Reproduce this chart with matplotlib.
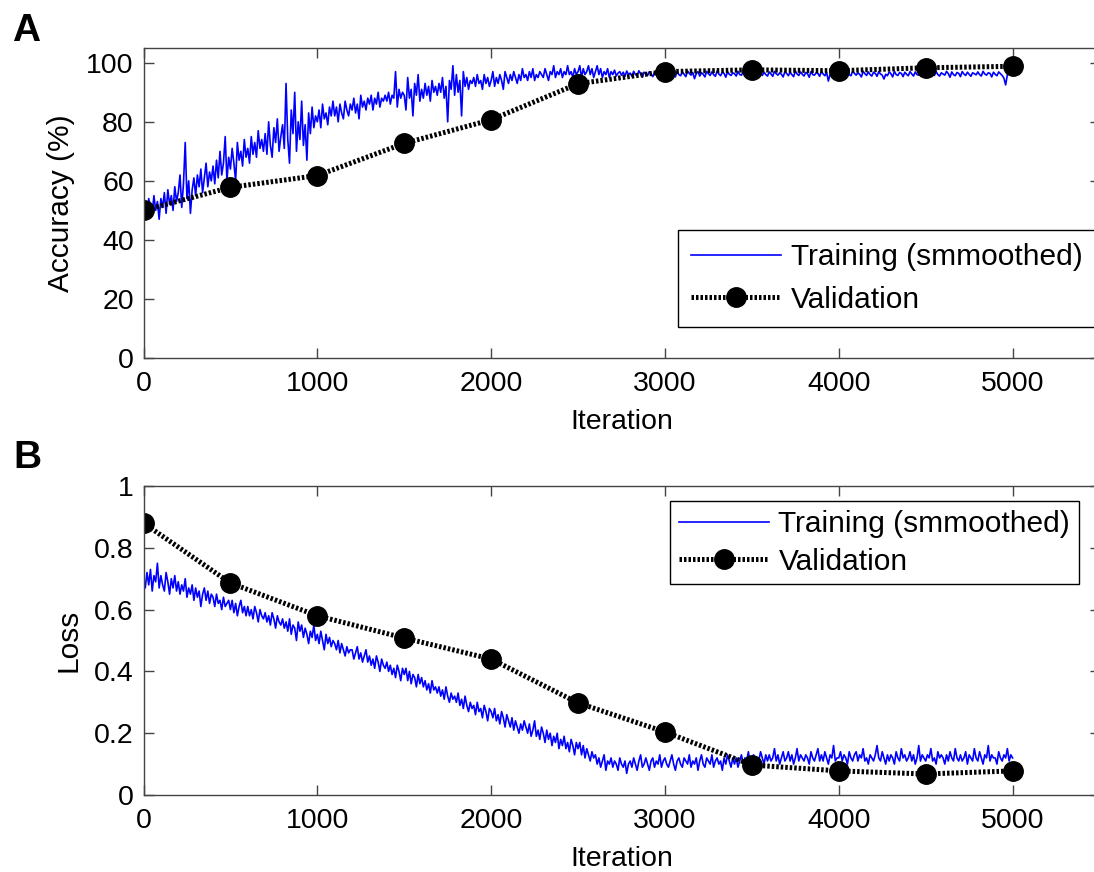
import numpy as np
import matplotlib
matplotlib.use('Agg')
import matplotlib.pyplot as plt
from matplotlib.ticker import FormatStrFormatter

plt.rcParams['font.family'] = ['Liberation Sans', 'DejaVu Sans']

# training curves, one value every 10 iterations
iters = np.arange(0, 5001, 10)

train_acc = [
    50, 52, 48, 54, 51, 49, 55, 50, 53, 47,
    54, 51, 56, 49, 57, 52, 55, 50, 58, 53,
    56, 62, 51, 59, 73, 54, 60, 49, 57, 61,
    55, 62, 58, 64, 56, 61, 66, 58, 63, 60,
    65, 59, 67, 61, 70, 62, 66, 75, 60, 68,
    64, 71, 66, 60, 73, 67, 70, 65, 74, 68,
    71, 66, 75, 69, 73, 68, 77, 71, 74, 70,
    76, 69, 80, 72, 68, 78, 73, 81, 70, 75,
    79, 71, 93, 74, 66, 84, 76, 90, 70, 80,
    74, 87, 72, 79, 67, 83, 76, 85, 78, 82,
    80, 84, 78, 86, 81, 83, 79, 85, 82, 87,
    82, 85, 80, 86, 83, 81, 87, 84, 82, 86,
    84, 88, 83, 86, 81, 89, 85, 87, 84, 88,
    86, 89, 84, 88, 86, 90, 85, 88, 87, 89,
    87, 90, 86, 89, 88, 97, 85, 91, 88, 90,
    89, 84, 95, 88, 91, 82, 93, 89, 96, 87,
    91, 88, 93, 89, 92, 87, 94, 90, 92, 89,
    93, 90, 95, 88, 92, 80, 94, 91, 99, 89,
    96, 90, 94, 82, 97, 92, 95, 91, 94, 93,
    95, 92, 96, 93, 94, 91, 96, 93, 95, 92,
    94, 97, 92, 95, 93, 96, 94, 91, 97, 95,
    93, 96, 94, 97, 95, 93, 96, 94, 98, 95,
    96, 94, 97, 95, 98, 94, 96, 95, 97, 96,
    95, 98, 96, 94, 97, 96, 99, 95, 97, 96,
    98, 95, 97, 96, 99, 96, 97, 95, 98, 96,
    97, 99, 95, 98, 96, 97, 99, 96, 98, 95,
    97, 99, 96, 98, 95, 97, 96, 98, 95, 97,
    96, 97.5, 95.5, 96.5, 97, 95.8, 96.8, 95.4, 97.2, 96,
    96.5, 95.4, 97.1, 96.0, 95.6, 97.3, 96.2, 95.1, 96.8, 96.3,
    95.7, 97.0, 96.1, 95.3, 96.9, 96.4, 95.8, 97.2, 95.5, 96.6,
    96.2, 95.4, 97.0, 96.3, 95.7, 96.8, 95.2, 97.1, 96.0, 95.6,
    96.9, 96.1, 95.3, 97.2, 96.4, 95.8, 96.7, 94.6, 96.3, 97.0,
    95.5, 96.6, 96.1, 95.2, 97.1, 96.3, 95.7, 96.9, 96.0, 95.4,
    97.2, 96.2, 95.6, 96.8, 96.4, 95.1, 97.0, 96.1, 95.7, 96.6,
    96.3, 95.5, 97.1, 96.0, 95.8, 96.9, 96.2, 95.3, 96.7, 97.2,
    95.6, 96.4, 96.1, 95.2, 97.0, 96.5, 95.7, 96.8, 96.0, 95.5,
    96.9, 96.2, 95.4, 97.1, 96.3, 95.8, 96.6, 96.1, 95.2, 97.0,
    96.4, 95.6, 96.8, 96.0, 95.3, 97.2, 96.2, 95.7, 96.9, 96.1,
    95.5, 96.7, 96.3, 95.1, 97.0, 96.0, 95.8, 96.6, 96.4, 95.4,
    97.1, 96.2, 95.6, 96.8, 93.8, 96.1, 95.5, 96.9, 96.3, 95.7,
    96.5, 95.9, 97.0, 96.2, 95.3, 96.8, 96.0, 95.6, 97.2, 96.4,
    95.8, 96.6, 96.1, 95.2, 97.1, 96.3, 95.7, 96.9, 96.0, 95.5,
    96.8, 96.4, 95.4, 97.0, 96.2, 95.8, 94.5, 96.1, 95.6, 96.9,
    96.3, 95.2, 97.1, 96.0, 95.7, 96.7, 96.4, 95.3, 96.8, 96.1,
    95.6, 97.0, 96.2, 95.5, 96.9, 96.0, 95.8, 97.2, 96.3, 95.4,
    96.7, 96.1, 95.2, 96.8, 96.4, 95.7, 97.0, 96.0, 95.5, 96.6,
    96.2, 95.8, 97.1, 96.3, 95.1, 96.9, 96.0, 95.6, 96.7, 96.4,
    95.3, 97.0, 96.2, 95.7, 96.8, 96.1, 95.4, 96.6, 96.3, 95.9,
    96.9, 96.0, 95.5, 97.1, 96.2, 95.8, 96.6, 96.4, 95.2, 96.8,
    96.1, 95.6, 96.9, 96.3, 95.7, 94.8, 92.5, 96.0, 96.4, 95.8,
    96.2,
]

train_loss = [
    .70, .67, .72, .68, .73, .66, .71, .69, .75, .67,
    .71, .68, .66, .72, .69, .65, .70, .67, .71, .66,
    .69, .65, .68, .66, .70, .64, .67, .65, .68, .63,
    .67, .64, .66, .61, .65, .67, .63, .66, .62, .65,
    .64, .61, .65, .62, .63, .60, .64, .61, .62, .63,
    .60, .63, .59, .62, .58, .61, .63, .59, .61, .58,
    .61, .58, .60, .57, .61, .59, .56, .60, .58, .57,
    .59, .56, .58, .55, .59, .57, .54, .58, .56, .55,
    .57, .54, .56, .53, .57, .52, .55, .54, .50, .56,
    .53, .55, .51, .54, .52, .49, .53, .51, .55, .50,
    .52, .49, .53, .50, .47, .52, .49, .51, .48, .50,
    .49, .47, .50, .46, .49, .47, .45, .48, .46, .47,
    .47, .44, .46, .48, .44, .46, .43, .45, .47, .43,
    .45, .42, .44, .41, .45, .43, .40, .44, .42, .41,
    .43, .40, .42, .39, .41, .38, .42, .40, .37, .41,
    .39, .41, .37, .40, .36, .39, .38, .35, .39, .36,
    .38, .35, .37, .34, .36, .33, .37, .34, .35, .33,
    .35, .32, .34, .31, .35, .32, .30, .33, .31, .32,
    .30, .33, .29, .31, .28, .32, .29, .27, .30, .28,
    .29, .26, .30, .27, .28, .25, .29, .27, .24, .28,
    .27, .25, .28, .24, .26, .23, .27, .25, .22, .26,
    .24, .22, .25, .21, .24, .22, .20, .23, .21, .24,
    .22, .20, .23, .19, .21, .24, .19, .21, .18, .22,
    .20, .17, .21, .18, .20, .16, .19, .17, .20, .15,
    .18, .16, .19, .15, .17, .14, .18, .16, .13, .17,
    .15, .17, .13, .16, .12, .15, .13, .11, .14, .12,
    .13, .10, .12, .09, .11, .13, .08, .11, .10, .12,
    .09, .11, .10, .08, .12, .10, .09, .11, .07, .10,
    .11, .09, .12, .10, .08, .11, .13, .09, .10, .12,
    .10, .08, .11, .12, .09, .11, .10, .13, .09, .11,
    .12, .10, .09, .11, .13, .10, .08, .11, .12, .10,
    .09, .12, .11, .10, .13, .09, .11, .10, .12, .08,
    .11, .13, .10, .09, .12, .11, .10, .13, .09, .11,
    .12, .10, .11, .08, .12, .10, .13, .11, .09, .12,
    .10, .12, .09, .11, .13, .10, .12, .11, .14, .10,
    .12, .13, .10, .12, .11, .14, .12, .10, .13, .11,
    .13, .11, .12, .15, .11, .13, .10, .12, .14, .11,
    .12, .14, .11, .13, .10, .12, .15, .11, .13, .12,
    .11, .13, .12, .10, .14, .12, .11, .13, .15, .11,
    .13, .11, .14, .12, .10, .13, .12, .16, .11, .12,
    .12, .14, .11, .13, .12, .10, .14, .12, .11, .13,
    .14, .11, .13, .12, .15, .11, .12, .10, .13, .12,
    .11, .13, .16, .12, .11, .14, .12, .10, .13, .11,
    .13, .12, .10, .14, .12, .11, .15, .12, .13, .11,
    .12, .14, .11, .13, .10, .12, .16, .11, .13, .12,
    .11, .13, .12, .15, .11, .12, .10, .14, .12, .13,
    .12, .10, .13, .11, .14, .12, .11, .15, .12, .11,
    .13, .11, .12, .14, .10, .13, .12, .11, .15, .12,
    .11, .14, .12, .10, .13, .12, .16, .11, .13, .12,
    .12, .10, .14, .12, .11, .13, .12, .15, .11, .13,
    .12,
]

# validation every 500 iterations
val_iters = [0, 500, 1000, 1500, 2000, 2500, 3000, 3500, 4000, 4500, 5000]
val_acc = [50, 57.8, 61.8, 72.7, 80.7, 92.9, 97, 97.6, 97.3, 98.3, 98.8]
val_loss = [0.88, 0.686, 0.58, 0.508, 0.44, 0.298, 0.204, 0.097, 0.078, 0.068, 0.078]

W, H = 1094, 872
fig = plt.figure(figsize=(W / 100, H / 100), dpi=100)

ax_a = fig.add_axes([143.5 / W, 1 - 358 / H, 956 / W, 310 / H])
ax_b = fig.add_axes([143.5 / W, 1 - 795 / H, 956 / W, 309 / H])

fs = 20.5
dots = (0, (0.5, 0.4))
spine_col = '#444444'


def style(ax, ylim, yticks, ylabel):
    ax.set_xlim(0, 5500)
    ax.set_ylim(*ylim)
    ax.set_xticks([0, 1000, 2000, 3000, 4000, 5000])
    ax.set_yticks(yticks)
    ax.tick_params(direction='in', length=7, width=1, top=True, right=True,
                   labelsize=fs, pad=7, color=spine_col)
    ax.tick_params(axis='x', pad=9)
    for s in ax.spines.values():
        s.set_linewidth(1)
        s.set_color(spine_col)
    ax.set_xlabel('Iteration', fontsize=fs, labelpad=9)
    ax.set_ylabel(ylabel, fontsize=21.5, labelpad=8)


def add_legend(ax, left, top, spacing, bpad):
    leg = ax.legend(loc='upper left', bbox_to_anchor=(left / W, 1 - top / H),
                    bbox_transform=fig.transFigure, fontsize=21.5, frameon=True,
                    fancybox=False, edgecolor='k', framealpha=1, handlelength=3,
                    handletextpad=0.33, labelspacing=spacing, borderpad=bpad,
                    borderaxespad=0)
    leg.get_frame().set_linewidth(1)


ax_a.plot(iters, train_acc, color='#0000ff', lw=1.2, label='Training (smmoothed)')
ax_a.plot(val_iters, val_acc, color='k', lw=3.6, linestyle=dots, marker='o',
          markersize=14, label='Validation')
style(ax_a, (0, 105), [0, 20, 40, 60, 80, 100], 'Accuracy (%)')
add_legend(ax_a, 678, 230, 0.48, 0.45)

ax_b.plot(iters, train_loss, color='#0000ff', lw=1.2, label='Training (smmoothed)')
ax_b.plot(val_iters, val_loss, color='k', lw=3.6, linestyle=dots, marker='o',
          markersize=14, label='Validation')
style(ax_b, (0, 1), [0, 0.2, 0.4, 0.6, 0.8, 1], 'Loss')
ax_b.yaxis.set_major_formatter(FormatStrFormatter('%g'))
add_legend(ax_b, 670, 501, 0.32, 0.3)

fig.text(12 / W, 1 - 41 / H, 'A', fontsize=28, fontweight='bold', va='baseline')
fig.text(13 / W, 1 - 468 / H, 'B', fontsize=28, fontweight='bold', va='baseline')

fig.savefig('out.png', dpi=100)
